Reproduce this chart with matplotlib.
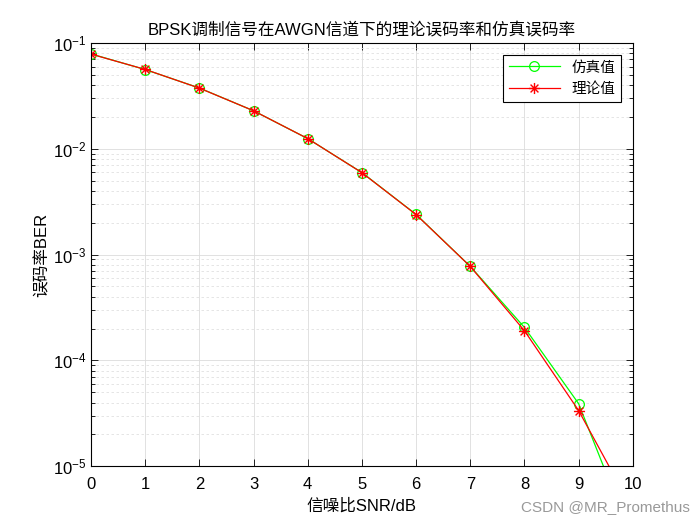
import matplotlib.pyplot as plt
from matplotlib.path import Path
from matplotlib.ticker import LogLocator, NullFormatter

plt.rcParams['font.family'] = ['Liberation Sans', 'Noto Sans CJK SC', 'DejaVu Sans']

snr_db = [0, 1, 2, 3, 4, 5, 6, 7, 8, 9, 10]
ber_sim = [0.0790, 0.0562, 0.0376, 0.0229, 0.0125, 0.00597, 0.00240, 0.000775, 0.000205, 3.9e-5, 2.0e-6]
ber_theory = [0.0786, 0.0563, 0.0375, 0.0229, 0.0125, 0.00595, 0.00239, 0.000773, 0.000191, 3.36e-5, 3.87e-6]

# matlab style asterisk: + and x on top of each other
d = 0.707
asterisk = Path(
    [(-1, 0), (1, 0), (0, -1), (0, 1), (-d, -d), (d, d), (-d, d), (d, -d)],
    [Path.MOVETO, Path.LINETO] * 4,
)

fig = plt.figure(figsize=(7, 5.25), dpi=100)
ax = fig.add_axes([0.13, 0.112, 0.774, 0.806])

ax.semilogy(snr_db, ber_sim, '-o', color='#00ff00', lw=0.9, ms=7, mfc='none', mew=0.9, label='仿真值')
ax.semilogy(snr_db, ber_theory, '-', marker=asterisk, color='red', lw=0.9, ms=8, mew=1.0, label='理论值')

ax.set_xlim(0, 10)
ax.set_ylim(1e-5, 1e-1)
ax.set_xticks(range(11))
ax.yaxis.set_minor_locator(LogLocator(base=10, subs=range(2, 10)))
ax.yaxis.set_minor_formatter(NullFormatter())
ax.grid(True, which='major', color='#dcdcdc', lw=0.6)
ax.grid(True, which='minor', axis='y', color='#e0e0e0', lw=0.6, ls=(0, (3, 3)))
ax.tick_params(which='both', direction='in', top=True, right=True, labelsize=12, width=0.6)
ax.tick_params(which='major', length=5)
ax.tick_params(which='minor', length=3)
ax.tick_params(axis='x', pad=8)
for s in ax.spines.values():
    s.set_linewidth(0.8)

ax.set_title('BPSK调制信号在AWGN信道下的理论误码率和仿真误码率', fontsize=12)
ax.set_xlabel('信噪比SNR/dB', fontsize=12, labelpad=4)
ax.set_ylabel('误码率BER', fontsize=12, labelpad=2)

leg = ax.legend(loc='upper right', fontsize=10.5, fancybox=False, edgecolor='black',
                framealpha=1, borderaxespad=0.8, handlelength=3.5)
leg.get_frame().set_linewidth(0.8)

fig.text(0.985, 0.02, 'CSDN @MR_Promethus', ha='right', va='bottom', fontsize=11, color='#999999')

fig.savefig('out.png', dpi=100)
